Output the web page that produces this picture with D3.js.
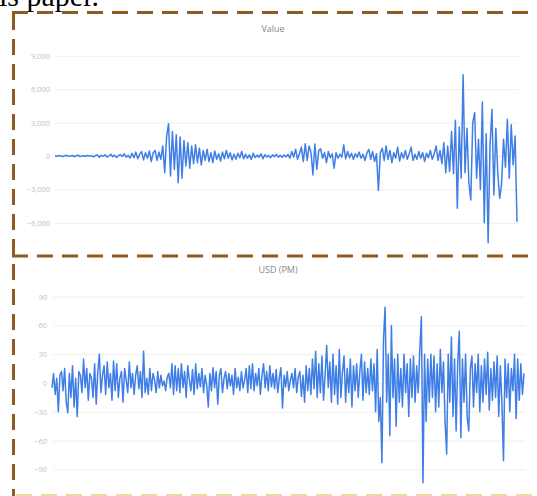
<!DOCTYPE html>
<html><head><meta charset="utf-8">
<script src="https://cdn.jsdelivr.net/npm/d3@7"></script>
<style>body{margin:0;background:#fff;overflow:hidden} svg{display:block}</style>
</head><body><svg id="c" width="537" height="496"></svg>
<script>
const valueSeries = [
  20, -30, 40, 10, -50, 30, 60, -20, 0, 40, -40, 20, 80, -60, 10, 30, -20, 50, -10, 20,
  -80, 40, 90, -120, 60, -30, 110, -90, 20, 150, -60, 80, -140, 40, 120, -50, 200, -100, 60, -180,
  250, -150, 350, -250, 150, 400, -350, 300, -200, 450, -500, 300, 500, -400, 350, -300, 900, -1500, 1800, 2900,
  -1800, 2200, -1200, 1900, -2400, 1700, -2000, 1400, -900, 1200, -1100, 900, -700, 1000, -600, 700, -800, 500, -400, 600,
  -500, 300, -600, 450, -300, 200, -450, 350, -250, 500, -200, 300, -350, 150, -300, 250, -150, 400, -250, 150,
  -200, 100, -300, 250, -150, 80, -100, 200, -250, 120, -80, 50, -150, 100, -60, 150, -100, 60, -120, 90,
  -80, 150, -200, 400, -100, 600, -300, 200, 800, -500, 1100, -400, 900, 300, -1700, 1080, -1200, 500, 650, -200,
  300, -600, 400, -150, 200, -1100, 300, -200, 150, -100, 1000, -250, 400, -150, 250, -300, 200, -100, 350, -200,
  150, -400, 250, 600, -300, 400, -500, 200, -3100, 300, 700, -400, 900, -300, 500, -600, 300, -200, 800, -450,
  300, -200, 500, -300, 200, 800, -400, 150, -300, 400, -200, 300, -500, 250, -150, 500, -300, 200, 900, -400,
  500, -700, 1200, -1500, 900, -1400, 2200, -1600, 3200, -4700, 2600, -2000, 7300, -1500, 2500, -2400, -3950, 3000, 3900, -2000,
  1500, -3000, 4860, -6000, 2000, -7800, 1000, 4200, -3500, 2500, -1500, -3800, -2500, 1500, -1000, 3300, -2000, 2800, -800, 1800, -5900
];
const usdSeries = [
  -5, 10, -12, 5, -30, 8, 12, -8, 15, -20, -31, 10, -15, 18, -25, 5, -35, 12, 8, -10,
  25, -5, 15, -18, 10, 5, -15, 20, -22, 12, 30, -10, 8, 18, -12, 22, -5, 10, -18, 23,
  -8, 20, -15, 5, 12, -20, 15, 3, -10, 22, -5, 10, -12, 8, 18, -6, 12, -15, 33, -10,
  5, -12, 15, -8, 10, 3, -10, 12, -5, 8, -3, 2, -8, 6, 10, -5, 20, -12, 18, -8,
  15, -10, 20, -5, 12, -15, 18, 3, -8, 14, -12, 20, -6, 10, -4, 15, -10, 8, -2, -25,
  10, -8, 16, -5, 12, -22, 8, 15, -10, 5, 12, -6, 10, -3, 8, -12, 15, -5, 6, -8,
  12, -5, 3, 15, -10, 18, -6, 20, -8, 10, -3, 15, -12, 8, 20, -5, 12, -8, 18, -4,
  10, -6, 14, -10, 5, 16, -26, 8, -4, 12, -8, 3, 10, -5, 15, -10, 6, 12, -14, 8,
  -20, 18, -8, 15, -12, 25, -6, 33, -15, 20, -10, 28, -18, 8, 39, -5, 22, -20, 30, -12,
  18, -22, 35, -15, 12, 28, -20, 15, -10, 25, -25, 18, -8, 20, -15, 12, 30, -18, 22, -10,
  15, -12, 25, -8, 20, -30, 35, -40, -15, -83, 45, 79, -20, 30, -55, 60, -15, 25, -45, 30,
  -20, 15, -25, 30, -10, 20, -35, 25, -15, 28, -20, 18, -10, 35, 69, -104, 30, -40, 25, -20,
  30, -15, 28, -30, 20, -25, 35, -10, 22, -40, -74, 30, -20, 48, -35, 25, -50, 20, 54, -57,
  25, -20, 30, -35, -50, 15, 28, -25, 20, -10, 30, -30, 18, -20, 25, -12, 32, -28, 15, -18,
  22, -15, 28, -35, 18, -20, -81, 25, -15, 20, -30, 15, -8, 30, -37, 25, -18, 20, -12, 10
];
const valueTicks = [9000, 6000, 3000, 0, -3000, -6000];
const usdTicks = [90, 60, 30, 0, -30, -60, -90];
const titles = ["Value", "USD (PM)"];
const caption = "is paper.";

const svg = d3.select("#c");
const lineColor = "#3f7ee6";
const fontFam = "'Open Sans','Noto Sans',sans-serif";

// caption text cut at top
svg.append("text").attr("x", -1).attr("y", 6)
  .attr("font-family", "'Liberation Serif','DejaVu Serif',serif")
  .attr("font-size", 30).attr("fill", "#000").text(caption);

function panel(data, ticks, yDomain, yRange, xRange, axisX, gridW, pad, fmt, title, tx, ty) {
  const g = svg.append("g");
  const y = d3.scaleLinear().domain(yDomain).range(yRange);
  const x = d3.scaleLinear().domain([0, data.length - 1]).range(xRange);
  const ax = g.append("g").attr("transform", `translate(${axisX},0)`)
    .call(d3.axisLeft(y).tickValues(ticks).tickSize(-gridW).tickPadding(pad).tickFormat(fmt));
  ax.select(".domain").remove();
  ax.selectAll(".tick line").attr("stroke", "#efefef").attr("stroke-width", 1);
  ax.selectAll(".tick text").attr("fill", "#c0c0c0").attr("font-size", 7.5).attr("font-family", fontFam);
  g.append("path").datum(data)
    .attr("fill", "none").attr("stroke", lineColor).attr("stroke-width", 1.5)
    .attr("stroke-linejoin", "round")
    .attr("d", d3.line().x((d, i) => x(i)).y(d => y(d)));
  g.append("text").attr("x", tx).attr("y", ty).attr("text-anchor", "middle")
    .attr("font-family", fontFam).attr("font-size", 9).attr("fill", "#888").text(title);
}

panel(valueSeries, valueTicks, [-9000, 9000], [256.2, 55.8], [55, 517], 55, 464, 5,
  d3.format(","), titles[0], 273, 32);
panel(usdSeries, usdTicks, [-90, 90], [469.4, 296.6], [52, 524], 53, 472, 6,
  d3.format("d"), titles[1], 278, 273);

// dashed frame
const frame = svg.append("g").attr("stroke", "#8f5b22").attr("stroke-width", 3)
  .attr("stroke-dasharray", "16,9").attr("fill", "none");
frame.append("line").attr("x1", 12).attr("y1", 12.5).attr("x2", 537).attr("y2", 12.5);
frame.append("line").attr("x1", 13.5).attr("y1", 14).attr("x2", 13.5).attr("y2", 496);
frame.append("line").attr("x1", 12).attr("y1", 256).attr("x2", 537).attr("y2", 256);
svg.append("line").attr("x1", 16).attr("y1", 495).attr("x2", 537).attr("y2", 495)
  .attr("stroke", "#efd9a0").attr("stroke-width", 2).attr("stroke-dasharray", "16,9");
</script>
</body></html>
